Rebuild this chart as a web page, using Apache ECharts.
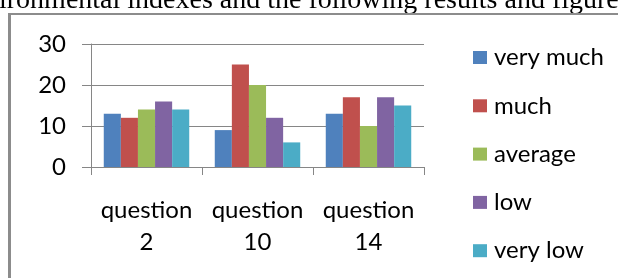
<!DOCTYPE html>
<html>
<head>
<meta charset="utf-8">
<script src="https://cdn.jsdelivr.net/npm/echarts@6/dist/echarts.min.js"></script>
<style>
    html, body { margin: 0; padding: 0; background: #fff; }
    #chart { width: 618px; height: 278px; }
</style>
</head>
<body>
<div id="chart"></div>
<script>

const categories = ['question\n2', 'question\n10', 'question\n14'];

const veryMuch = [13, 9, 13];
const much = [12, 25, 17];
const average = [14, 20, 10];
const low = [16, 12, 17];
const veryLow = [14, 6, 15];

const seriesNames = ['very much', 'much', 'average', 'low', 'very low'];
const seriesColors = ['#4F81BD', '#C0504D', '#9BBB59', '#8064A2', '#4BACC6'];

const chart = echarts.init(document.getElementById('chart'));

const font = 'Lato, "Open Sans", sans-serif';

const option = {
    animation: false,
    color: seriesColors,
    graphic: [
        {
            type: 'text',
            left: -1,
            top: -13,
            style: {
                text: 'ironmental indexes and the following results and figure',
                font: '28px "Liberation Serif", serif',
                fill: '#000'
            }
        },
        {
            type: 'line',
            shape: { x1: 9.5, y1: 14, x2: 9.5, y2: 290 },
            style: { stroke: '#8c8c8c', lineWidth: 3 }
        },
        {
            type: 'line',
            shape: { x1: 8, y1: 14, x2: 620, y2: 14 },
            style: { stroke: '#8c8c8c', lineWidth: 2 }
        }
    ],
    legend: {
        orient: 'vertical',
        left: 468,
        top: 40,
        itemWidth: 14,
        itemHeight: 13,
        itemGap: 23.3,
        icon: 'rect',
        textStyle: {
            fontFamily: font,
            fontSize: 24,
            lineHeight: 25,
            padding: [0, 0, 0, 2],
            color: '#000'
        },
        data: seriesNames
    },
    grid: {
        left: 91,
        right: 194,
        top: 44,
        bottom: 111
    },
    xAxis: {
        type: 'category',
        data: categories,
        axisLine: { lineStyle: { color: '#868686', width: 1 } },
        axisTick: { show: true, length: 8, lineStyle: { color: '#868686' } },
        axisLabel: {
            interval: 0,
            margin: 27,
            fontFamily: font,
            fontSize: 24,
            lineHeight: 32,
            color: '#000'
        }
    },
    yAxis: {
        type: 'value',
        min: 0,
        max: 30,
        interval: 10,
        axisLine: { show: true, lineStyle: { color: '#868686', width: 1 } },
        axisTick: { show: true, length: 9, lineStyle: { color: '#868686' } },
        splitLine: { lineStyle: { color: '#868686', width: 1 } },
        axisLabel: {
            margin: 25,
            fontFamily: font,
            fontSize: 24,
            color: '#000'
        }
    },
    series: [veryMuch, much, average, low, veryLow].map((values, i) => ({
        name: seriesNames[i],
        type: 'bar',
        barGap: 0,
        barCategoryGap: '23%',
        data: values
    }))
};

option && chart.setOption(option);

</script>
</body>
</html>
